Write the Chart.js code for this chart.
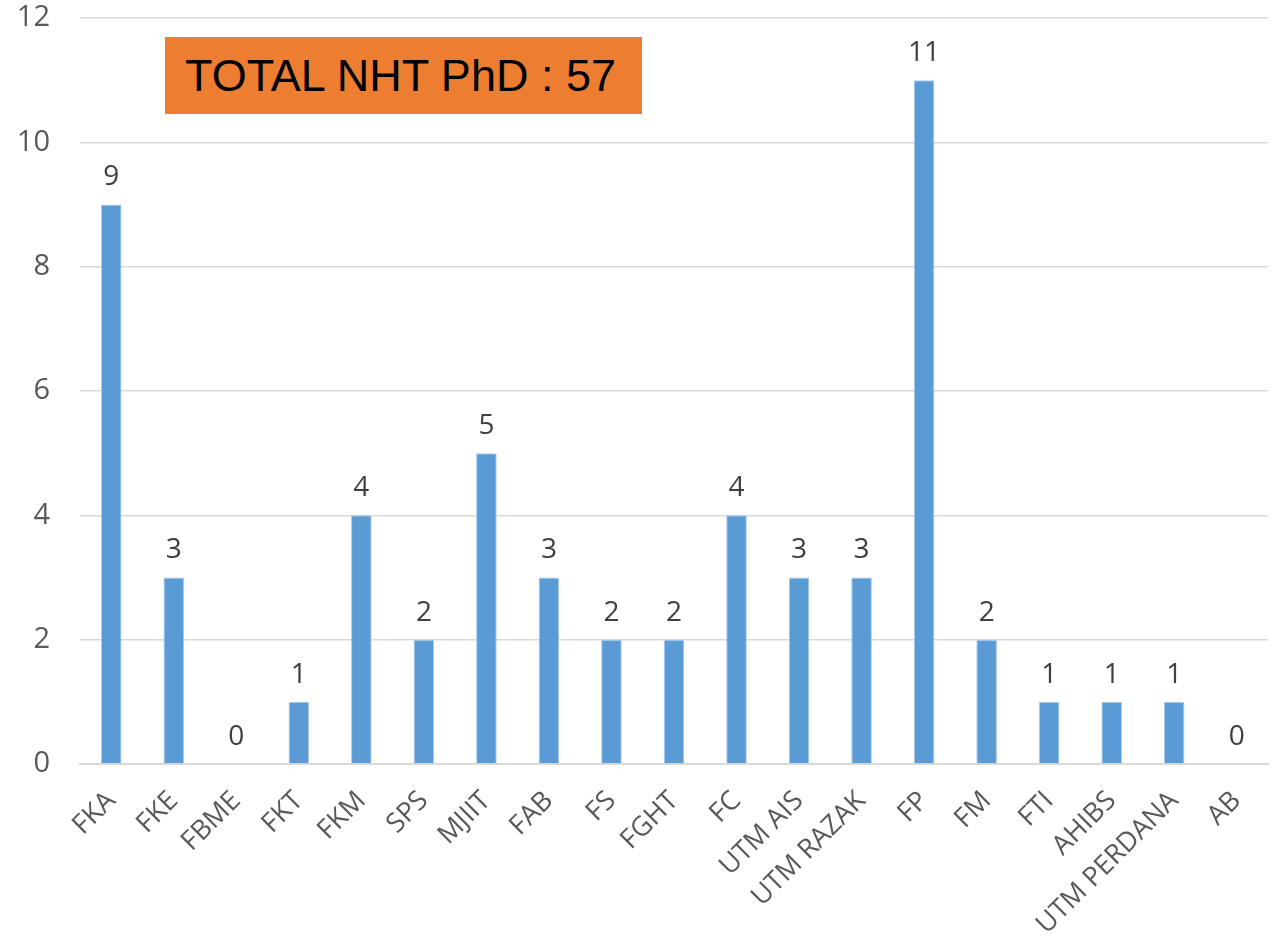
<!DOCTYPE html>
<html>
<head>
<meta charset="utf-8">
<script src="https://cdn.jsdelivr.net/npm/chart.js@4"></script>
<style>
  body { margin: 0; background: #fff; }
  #wrap { position: relative; width: 1279px; height: 943px; }
  #total {
    position: absolute; left: 165px; top: 37px; width: 477px; height: 77px;
    background: #ED7D31; color: #000; font-family: "Liberation Sans", Arial, sans-serif;
    font-size: 45px; line-height: 77px; padding-left: 20px; box-sizing: border-box;
  }
</style>
</head>
<body>
<div id="wrap">
  <canvas id="barCanvas" width="1279" height="943"></canvas>
  <div id="total">TOTAL NHT PhD : 57</div>
</div>
<script>
const categories = ["FKA","FKE","FBME","FKT","FKM","SPS","MJIIT","FAB","FS","FGHT","FC","UTM AIS","UTM RAZAK","FP","FM","FTI","AHIBS","UTM PERDANA","AB"];
const values = [9,3,0,1,4,2,5,3,2,2,4,3,3,11,2,1,1,1,0];
const yTicks = [0,2,4,6,8,10,12];

const barCanvas = document.getElementById("barCanvas");

// draws the numbers over each bar
const valueLabels = {
    id: "valueLabels",
    afterDatasetsDraw(chart) {
        const ctx = chart.ctx;
        const meta = chart.getDatasetMeta(0);
        ctx.save();
        ctx.font = "28px 'Open Sans', sans-serif";
        ctx.fillStyle = "#404040";
        ctx.textAlign = "center";
        ctx.textBaseline = "bottom";
        meta.data.forEach((bar, i) => {
            ctx.fillText(values[i], bar.x, bar.y - 13);
        });
        ctx.restore();
    }
};

const barChart = new Chart(barCanvas, {
    type: "bar",
    data: {
        labels: categories,
        datasets: [{
            data: values,
            backgroundColor: "#5B9BD5",
            borderColor: "#A9CBEB",
            borderWidth: 1,
            barPercentage: 0.33,
            categoryPercentage: 1
        }]
    },
    options: {
        responsive: false,
        animation: false,
        layout: { padding: { top: 0, right: 11, left: 0, bottom: 0 } },
        plugins: { legend: { display: false }, tooltip: { enabled: false } },
        scales: {
            y: {
                min: 0, max: 12,
                afterFit: (scale) => {
                    scale.width = 80;
                    scale.paddingTop = 18;
                    scale.paddingBottom = 0;
                },
                afterBuildTicks: (scale) => { scale.ticks = yTicks.map(v => ({ value: v })); },
                border: { display: false },
                grid: { color: "#D9D9D9", lineWidth: 1.5, drawTicks: false },
                ticks: { color: "#595959", font: { size: 29, family: "'Open Sans', sans-serif" }, padding: 30 }
            },
            x: {
                afterFit: (scale) => { scale.height = 179; },
                border: { color: "#D9D9D9", width: 2 },
                grid: { display: false },
                ticks: {
                    color: "#595959", font: { size: 27, family: "'Open Sans', sans-serif" },
                    minRotation: 45, maxRotation: 45, autoSkip: false, padding: 13
                }
            }
        }
    },
    plugins: [valueLabels]
});
</script>
</body>
</html>
